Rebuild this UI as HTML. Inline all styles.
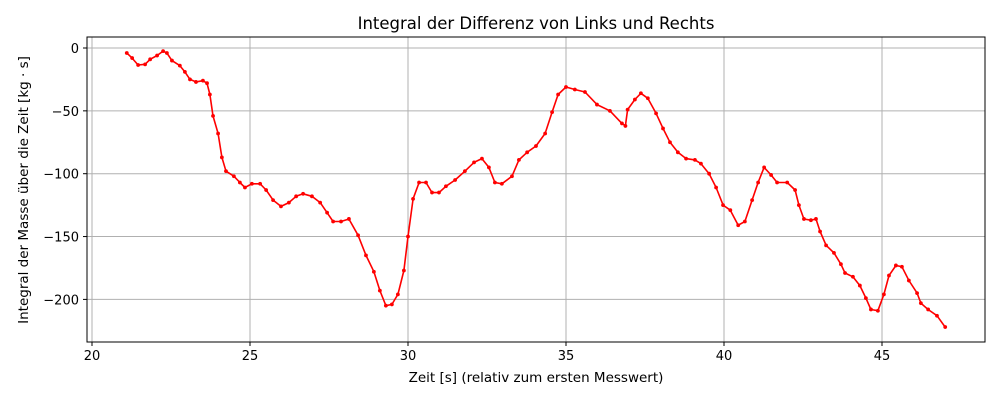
<!DOCTYPE html>
<html><head><meta charset="utf-8">
<style>
body{margin:0;background:#fff;font-family:"Liberation Sans","DejaVu Sans",sans-serif;}
svg text{font-family:"DejaVu Sans","Liberation Sans",sans-serif;}
</style></head>
<body>
<svg id="chart" width="1000" height="400" viewBox="0 0 1000 400">
<g id="grid"></g>
<rect x="87" y="37" width="898" height="305" fill="none" stroke="#000" stroke-width="1"/>
<g id="xticks"></g>
<g id="yticks"></g>
<g id="series"></g>
<text x="536" y="29" text-anchor="middle" font-size="16.5">Integral der Differenz von Links und Rechts</text>
<text x="536" y="382" text-anchor="middle" font-size="13.5">Zeit [s] (relativ zum ersten Messwert)</text>
<text x="0" y="0" transform="translate(28,190) rotate(-90)" text-anchor="middle" font-size="13.5">Integral der Masse über die Zeit [kg · s]</text>
</svg>
<script>
const xTicks=[20,25,30,35,40,45];
const yTicks=[0,-50,-100,-150,-200];
const times=[21.1,21.27,21.46,21.68,21.84,22.06,22.25,22.37,22.53,22.78,22.94,23.1,23.29,23.51,23.64,23.73,23.83,23.99,24.11,24.24,24.49,24.68,24.84,25.06,25.32,25.51,25.73,25.98,26.23,26.46,26.68,26.96,27.22,27.44,27.63,27.88,28.13,28.42,28.67,28.92,29.11,29.3,29.49,29.68,29.87,30.0,30.16,30.35,30.57,30.76,30.98,31.2,31.49,31.8,32.09,32.34,32.56,32.75,32.97,33.29,33.51,33.77,34.05,34.34,34.56,34.75,35.0,35.28,35.6,35.98,36.39,36.77,36.88,36.95,37.18,37.37,37.59,37.85,38.07,38.29,38.54,38.8,39.08,39.27,39.53,39.75,39.97,40.2,40.45,40.66,40.89,41.08,41.27,41.49,41.68,42.0,42.25,42.37,42.53,42.75,42.91,43.04,43.23,43.48,43.7,43.83,44.08,44.3,44.49,44.65,44.87,45.06,45.22,45.44,45.63,45.85,46.11,46.23,46.46,46.74,47.0];
const values=[-4,-8,-13.5,-13,-9,-6,-2.5,-4,-10,-14,-19,-25,-27,-26,-28,-37,-54,-68,-87,-98,-102,-107,-111,-108,-108,-113,-121,-126,-123,-118,-116,-118,-123,-131,-138,-138,-136,-149,-165,-178,-193,-205,-204,-196,-177,-150,-120,-107,-107,-115,-115,-110,-105,-98,-91,-88,-95,-107,-108,-102,-89,-83,-78,-68,-51,-37,-31,-33,-35,-45,-50,-60,-62,-49,-41,-36,-40,-52,-64,-75,-83,-88,-89,-92,-100,-111,-125,-129,-141,-138,-121,-107,-95,-101,-107,-107,-113,-125,-136,-137,-136,-146,-157,-163,-172,-179,-182,-189,-199,-208,-209,-196,-181,-173,-174,-185,-195,-203,-208,-213,-222];
const NS='http://www.w3.org/2000/svg';
function xS(t){return 92+(t-20)*31.6;}
function yS(v){return 48-v*1.257;}
const grid=document.getElementById('grid'),gx=document.getElementById('xticks'),gy=document.getElementById('yticks'),ser=document.getElementById('series');
function mk(tag,attrs,parent){const e=document.createElementNS(NS,tag);for(const k in attrs)e.setAttribute(k,attrs[k]);parent.appendChild(e);return e;}
xTicks.forEach(t=>{const x=xS(t);
 const g=mk('line',{x1:x,x2:x,y1:37,y2:342,stroke:'#b0b0b0','stroke-width':1},grid);
 
 
 mk('line',{x1:x,x2:x,y1:342,y2:346,stroke:'#000'},gx);
 const tx=mk('text',{x:x,y:360,'text-anchor':'middle','font-size':13},gx);tx.textContent=t;
 
 
});
yTicks.forEach(v=>{const y=yS(v);
 const g=mk('line',{x1:87,x2:985,y1:y,y2:y,stroke:'#b0b0b0','stroke-width':1},grid);
 
 
 mk('line',{x1:83,x2:87,y1:y,y2:y,stroke:'#000'},gy);
 const tx=mk('text',{x:79,y:y+5,'text-anchor':'end','font-size':13},gy);tx.textContent=String(v).replace('-','−');
 
 
});
const pts=times.map((t,i)=>xS(t).toFixed(1)+','+yS(values[i]).toFixed(1)).join(' ');
const line=mk('polyline',{points:pts,fill:'none',stroke:'#ff0000','stroke-width':1.6,'stroke-linejoin':'round'},ser);


times.forEach((t,i)=>{const c=mk('circle',{cx:xS(t),cy:yS(values[i]),r:1.9,fill:'#ff0000'},ser);
 
 
});
</script>
</body></html>
